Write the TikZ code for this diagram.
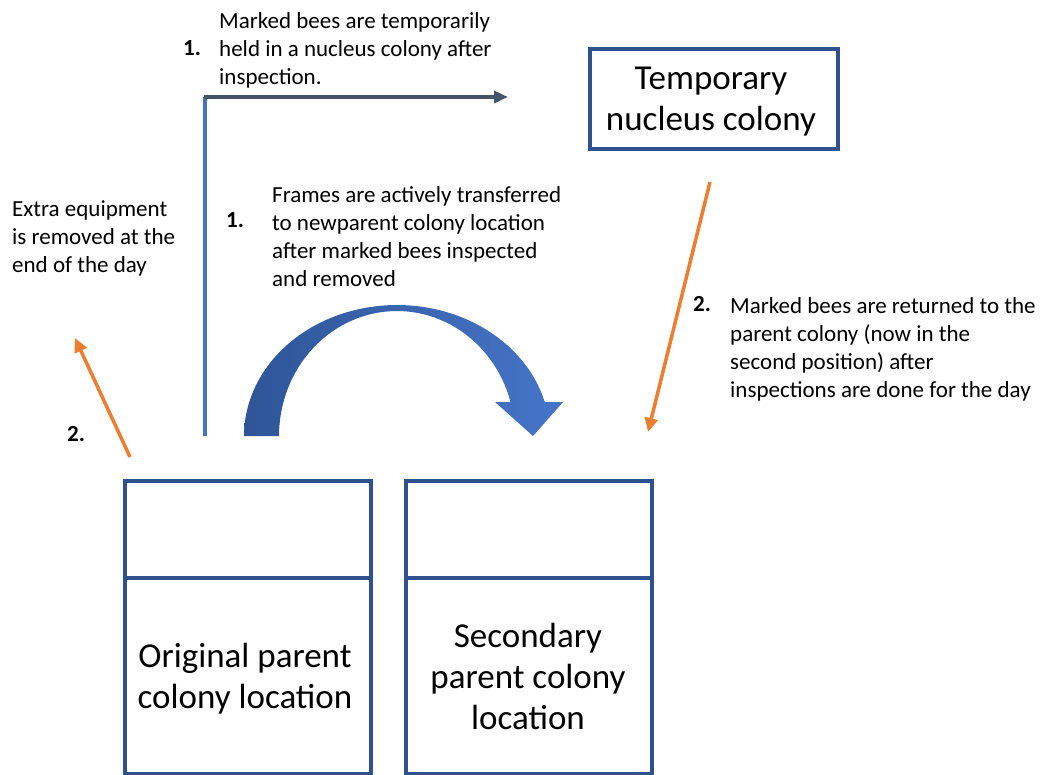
\documentclass[tikz,border=0pt]{standalone}
\usepackage{fontspec}
\setmainfont{Carlito}
\usetikzlibrary{arrows.meta}
\definecolor{boxblue}{HTML}{2F528F}
\definecolor{lineblue}{HTML}{4472C4}
\definecolor{slate}{HTML}{44546A}
\definecolor{orangec}{HTML}{ED7D31}
\definecolor{arcdark}{HTML}{2E5597}
\definecolor{arclight}{HTML}{4675C8}
\begin{document}
\begin{tikzpicture}[x=1pt,y=-1pt,
  lbl/.style={font=\fontsize{23}{28}\selectfont, inner sep=0pt, align=left, anchor=base west},
  num/.style={font=\fontsize{23}{28}\selectfont\bfseries, inner sep=0pt, anchor=base west},
  big/.style={font=\fontsize{35}{41}\selectfont, inner sep=0pt, align=center, anchor=base},
  frame/.style={draw=boxblue, line width=4pt},
  colbox/.style={frame, minimum width=246pt, minimum height=293pt, anchor=north west, inner sep=0pt},
  oarrow/.style={draw=orangec, line width=3.5pt, -{Triangle[length=14pt,width=13pt]}},
]
\useasboundingbox (0,0) rectangle (1040,774);

% colony boxes
\node[colbox] (orig) at (122.5,478.5) {};
\node[colbox] (sec) at (404,478.5) {};
\draw[frame] (orig.west |- 0,578) -- (orig.east |- 0,578);
\draw[frame] (sec.west |- 0,578) -- (sec.east |- 0,578);
\node[big] (origtxt) at (245,708) {Original parent\\colony location};
\node[big] (sectxt) at (528,729) {Secondary\\parent colony\\location};

% temporary nucleus colony
\node[frame, minimum width=248pt, minimum height=100pt, anchor=north west, inner sep=0pt] (temp) at (588,46.5) {};
\node[big] (temptxt) at (711,130) {Temporary\\nucleus colony};

% top connector
\coordinate (vstart) at (205,436);
\coordinate (corner) at (205,97);
\coordinate (hstart) at (203.5,97);
\coordinate (hend) at (508,97);
\draw[lineblue, line width=3.5pt] (vstart) -- (corner);
\draw[slate, line width=3.5pt, -{Triangle[length=14pt,width=12pt]}] (hstart) -- (hend);

% curved block arrow
\shade[left color=arcdark, right color=arclight]
  plot[domain=180:345, samples=60] ({397+153*cos(\x)},{436+131*sin(\x)})
  -- (563,402) -- (533,436) -- (495,402)
  -- plot[domain=344.2:180, samples=60] ({397+118*cos(\x)},{436+125*sin(\x)})
  -- cycle;

% orange arrows
\coordinate (o1s) at (130,457);
\coordinate (o1e) at (75,338);
\coordinate (o2s) at (710,182);
\coordinate (o2e) at (648,432);
\draw[oarrow] (o1s) -- (o1e);
\draw[oarrow] (o2s) -- (o2e);

% labels
\node[num] (n1a) at (183,55) {1.};
\node[lbl] (t1) at (219,84) {Marked bees are temporarily\\held in a nucleus colony after\\inspection.};
\node[num] (n1b) at (226,227) {1.};
\node[lbl] (t2) at (272,286) {Frames are actively transferred\\to newparent colony location\\after marked bees inspected\\and removed};
\node[lbl] (t3) at (12,272) {Extra equipment\\is removed at the\\end of the day};
\node[num] (n2a) at (67,441) {2.};
\node[num] (n2b) at (693,311) {2.};
\node[lbl] (t4) at (730,397) {Marked bees are returned to the\\parent colony (now in the\\second position) after\\inspections are done for the day};
\end{tikzpicture}
\end{document}
